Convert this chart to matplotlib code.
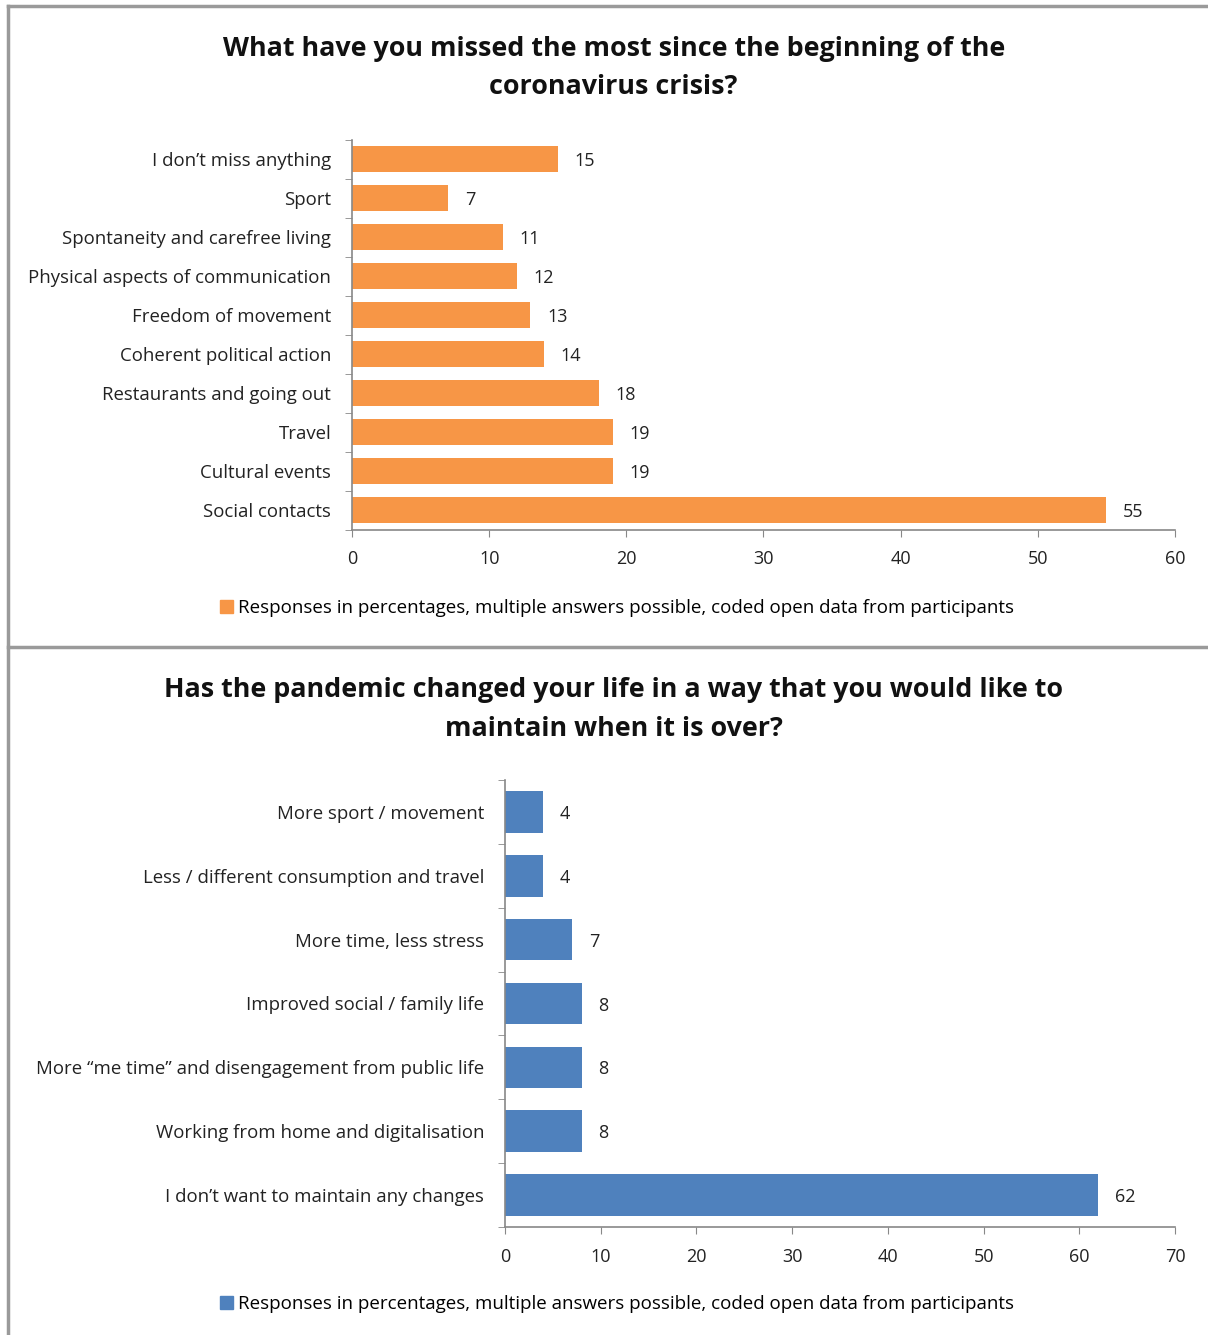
import numpy as np
import matplotlib.pyplot as plt
from matplotlib.lines import Line2D

plt.rcParams['font.family'] = ['Open Sans', 'DejaVu Sans']

# data (top panel, listed from top to bottom)
missed_labels = ["I don\u2019t miss anything", "Sport", "Spontaneity and carefree living",
                 "Physical aspects of communication", "Freedom of movement",
                 "Coherent political action", "Restaurants and going out", "Travel",
                 "Cultural events", "Social contacts"]
missed_values = [15, 7, 11, 12, 13, 14, 18, 19, 19, 55]

# data (bottom panel, listed from top to bottom)
keep_labels = ["More sport / movement", "Less / different consumption and travel",
               "More time, less stress", "Improved social / family life",
               "More \u201cme time\u201d and disengagement from public life",
               "Working from home and digitalisation", "I don\u2019t want to maintain any changes"]
keep_values = [4, 4, 7, 8, 8, 8, 62]

legend_text = "Responses in percentages, multiple answers possible, coded open data from participants"

W, H = 1208, 1335
fig = plt.figure(figsize=(W / 100, H / 100), dpi=100)


def px(x, y):
    return x / W, 1 - y / H


def bar_panel(rect, labels, values, color, xmax, xstep, title, title_y, legend_y):
    ax = fig.add_axes(rect)
    n = len(labels)
    pos = np.arange(n)[::-1]
    ax.barh(pos, values, height=0.65, color=color)
    ax.set_ylim(-0.5, n - 0.5)
    ax.set_xlim(0, xmax)
    ax.set_xticks(np.arange(0, xmax + 1, xstep))
    ax.set_yticks(pos)
    ax.set_yticklabels(labels, fontsize=13.4, color="#222222")
    ax.set_yticks(np.arange(-0.5, n, 1), minor=True)
    ax.tick_params(axis="y", which="major", length=0, pad=15)
    ax.tick_params(axis="y", which="minor", length=5, color="#888888")
    ax.tick_params(axis="x", length=5, color="#888888", labelsize=13,
                   labelcolor="#222222", pad=10)
    for s in ["top", "right"]:
        ax.spines[s].set_visible(False)
    for s in ["left", "bottom"]:
        ax.spines[s].set_color("#888888")
        ax.spines[s].set_linewidth(1.2)
    for p, v in zip(pos, values):
        ax.annotate(str(v), (v, p), xytext=(12, -1.5), textcoords="offset points",
                    va="center", ha="left", fontsize=13, color="#222222")
    fig.text(0.508, title_y, title, ha="center", va="center", fontsize=19.4,
             fontweight="bold", linespacing=1.65, color="#111111")
    fig.legend(handles=[plt.Rectangle((0, 0), 1, 1, color=color)], labels=[legend_text],
               loc="center", bbox_to_anchor=(0.511, legend_y), frameon=False,
               fontsize=13.5, handlelength=0.65, handleheight=0.65, handletextpad=0.3)
    return ax


bar_panel([352 / W, 1 - 529.5 / H, (1175 - 352) / W, 390 / H],
          missed_labels, missed_values, "#f79646", 60, 10,
          "What have you missed the most since the beginning of the\ncoronavirus crisis?",
          1 - 68 / H, 1 - 608 / H)

bar_panel([505 / W, 1 - 1227 / H, (1175 - 505) / W, 447 / H],
          keep_labels, keep_values, "#4f81bd", 70, 10,
          "Has the pandemic changed your life in a way that you would like to\nmaintain when it is over?",
          1 - 709.5 / H, 1 - 1304 / H)

# panel borders
border = dict(color="#9a9a9a", linewidth=2.5)
for (x0, y0), (x1, y1) in [((8, 6), (1208, 6)), ((8, 6), (8, 1335)), ((8, 647), (1208, 647))]:
    a, b = px(x0, y0)
    c, d = px(x1, y1)
    fig.add_artist(Line2D([a, c], [b, d], transform=fig.transFigure, **border))

fig.savefig("out.png", dpi=100)
